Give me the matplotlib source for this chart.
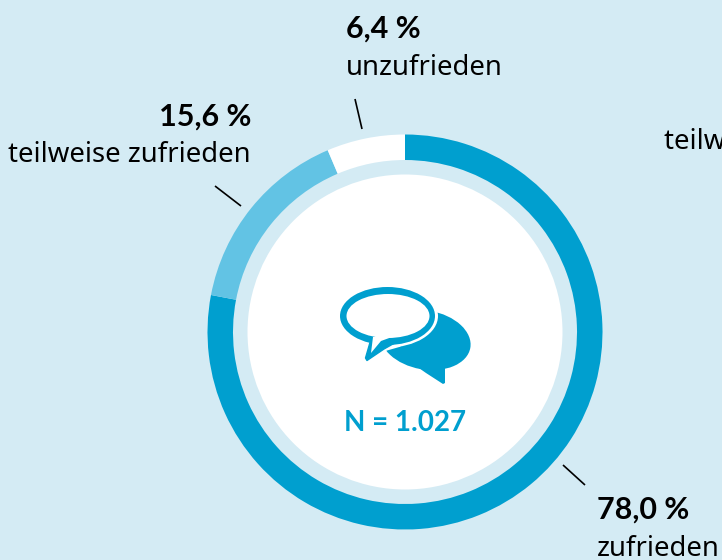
import matplotlib
matplotlib.use('Agg')
import matplotlib.pyplot as plt
from matplotlib.patches import Circle, Ellipse, PathPatch
from matplotlib.path import Path

plt.rcParams['font.family'] = ['Noto Sans', 'DejaVu Sans']

# share of answers, clockwise from the top
labels = ['zufrieden', 'teilweise zufrieden', 'unzufrieden']
values = [78.0, 15.6, 6.4]
pct_labels = ['78,0 %', '15,6 %', '6,4 %']
total_label = 'N = 1.027'

BG = '#d4ebf4'
BLUE = '#009fcf'
LIGHT = '#62c3e4'
W, H = 722, 560
colors = [BLUE, LIGHT, 'white']
FS = 19.8
BOLD = {'family': ['Lato', 'DejaVu Sans'], 'fontweight': 'bold', 'fontsize': 22}


def py(y):
    # picture y (from the top) to axes y
    return H - y


def shape(points, **kwargs):
    ax.add_patch(PathPatch(Path([(x, py(y)) for x, y in points]), ec=kwargs.pop('ec', 'none'), **kwargs))


fig = plt.figure(figsize=(W / 100, H / 100), dpi=100, facecolor=BG)
ax = fig.add_axes([0, 0, 1, 1])
CX, CY = 405, py(332)

ax.pie(values, colors=colors, startangle=90, counterclock=False, center=(CX, CY), radius=197.5,
       wedgeprops={'width': 25.5, 'linewidth': 0})
ax.add_patch(Circle((CX, CY), 157.5, fc='white', ec='none'))
ax.set_xlim(0, W)
ax.set_ylim(0, H)
ax.set_aspect('equal')
ax.axis('off')

# leader lines
for x0, y0, x1, y1 in [(355, 99, 362, 129), (215, 186, 241, 206), (563, 465, 585, 485)]:
    ax.plot([x0, x1], [py(y0), py(y1)], color='black', lw=1.2, solid_capstyle='butt')

# icon, back bubble first
ax.add_patch(Ellipse((425.5, py(340)), 91, 59, angle=-10, fc=BLUE, ec='none'))
shape([(416, 366), (426, 373), (443, 384), (445, 383), (445, 362), (416, 362)], fc=BLUE, lw=1, joinstyle='round')
ax.add_patch(Ellipse((387.5, py(316)), 101, 63, fc='white', ec='none'))
shape([(369, 338), (364, 358), (366, 361), (386, 349), (400, 345), (369, 338)], fc='white', ec='white', lw=2.5)
shape([(371, 339), (365.5, 358), (367, 360.5), (384, 349), (400, 340), (371, 339)], fc=BLUE, ec=BLUE, lw=1,
      joinstyle='round')
ax.add_patch(Ellipse((387.5, py(316)), 95, 58, fc=BLUE, ec='none'))
ax.add_patch(Ellipse((388, py(316)), 83, 44, fc='white', ec='none'))
shape([(373, 337), (371, 353), (381, 341), (392, 337), (373, 337)], fc='white')

# labels
ax.text(405, py(431), total_label, color=BLUE, ha='center', va='baseline',
        family=['Lato', 'DejaVu Sans'], fontweight='bold', fontsize=20)
ax.text(346, py(38), pct_labels[2], color='black', va='baseline', **BOLD)
ax.text(346, py(75), labels[2], color='black', fontsize=FS, va='baseline')
ax.text(251, py(126), pct_labels[1], color='black', ha='right', va='baseline', **BOLD)
ax.text(251, py(162), labels[1], color='black', fontsize=FS, ha='right', va='baseline')
ax.text(664, py(149), labels[1], color='black', fontsize=FS, va='baseline')
ax.text(597, py(519), pct_labels[0], color='black', va='baseline', **BOLD)
ax.text(597, py(556), labels[0], color='black', fontsize=FS, va='baseline')

fig.savefig('out.png', dpi=100, facecolor=BG)
